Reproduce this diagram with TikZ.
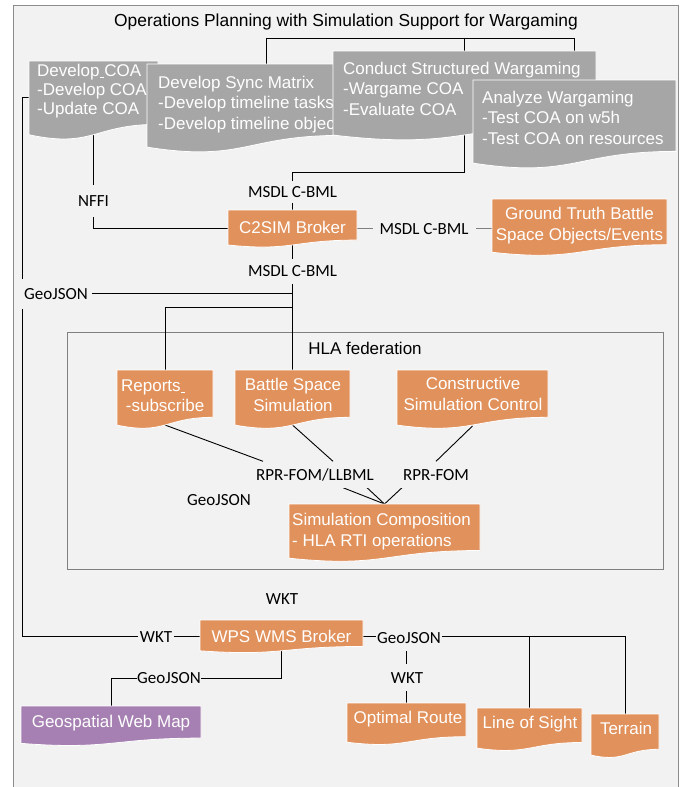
\documentclass[tikz,border=0pt]{standalone}
\usepackage{fontspec}
\setmainfont{Liberation Sans}
\newfontfamily\lblfont{Carlito}
\usetikzlibrary{calc}

\definecolor{pagebg}{HTML}{F2F2F2}
\definecolor{docgray}{HTML}{A6A6A6}
\definecolor{docorange}{HTML}{E1915B}
\definecolor{docpurple}{HTML}{A680B2}
\definecolor{framegray}{HTML}{8C8C8C}
\definecolor{linkgray}{HTML}{808080}

\pgfdeclarelayer{backdrop}
\pgfdeclarelayer{links}
\pgfsetlayers{backdrop,links,main}

\tikzset{
  docframe/.style={shape=rectangle, inner sep=0pt, outer sep=0pt},
  doctext/.style={text=white, inner sep=0pt, font=\fontsize{17}{20.5}\selectfont},
  conn/.style={draw=black, line width=0.9pt},
  conngray/.style={draw=linkgray, line width=0.9pt},
  lbl/.style={font=\lblfont\fontsize{17}{20}\selectfont, fill=pagebg,
    text height=11pt, text depth=0pt, inner xsep=2pt, inner ysep=2pt},
  heading/.style={font=\fontsize{17}{20}\selectfont, anchor=base, inner sep=0pt},
}

% stacked lines of text, baseline on the first line
\newcommand\leftlines[1]{\begin{tabular}[t]{@{}l@{}}#1\end{tabular}}
\newcommand\centerlines[1]{\begin{tabular}[t]{@{}c@{}}#1\end{tabular}}

% flowchart "document" box: name, x, y (top), width, height, fill,
% text options, text position from the top-left corner, text
\newcommand\docbox[9]{%
  \node[docframe, minimum width=#4pt, minimum height=#5pt, anchor=north west] (#1) at (#2,#3) {};
  \fill[#6, draw=white, line width=0.8pt] (#1.north west) -- (#1.north east)
    -- ([yshift={-0.802*#5pt}]#1.north east)
    .. controls ([yshift={-0.802*#5pt}]#1.north) and ([yshift={-1.107*#5pt}]#1.north)
    .. ([yshift={-0.934*#5pt}]#1.north west) -- cycle;
  \node[doctext, #7] at ($(#1.north west)+(#8)$) {#9};
}

\begin{document}
\begin{tikzpicture}[x=1pt, y=-1pt]
\useasboundingbox (0,0) rectangle (686,787);

\begin{pgfonlayer}{backdrop}
  \fill[white] (0,0) rectangle (686,787);
  \fill[pagebg] (13,5) rectangle (678,792);
  \draw[framegray, line width=1pt] (13,792) -- (13,5) -- (678,5) -- (678,792);
  \node[docframe, draw=linkgray, line width=0.9pt, minimum width=596pt,
        minimum height=237pt, anchor=north west] (hla) at (67,332) {};
\end{pgfonlayer}

\node[heading, font=\fontsize{17.4}{20}\selectfont] (title) at (346,27) {Operations Planning with Simulation Support for Wargaming};
\node[heading] (hlatitle) at (365,354) {HLA federation};

% planning steps
\docbox{devcoa}{29}{61}{129}{79}{docgray}{anchor=base west, font=\fontsize{17}{19}\selectfont}{8,15}
  {\leftlines{Develop\underline{\ }COA\\-Develop COA\\-Update COA}}
\docbox{sync}{147}{64}{195}{89}{docgray}{anchor=base west}{11,24}
  {\leftlines{Develop Sync Matrix\\-Develop timeline tasks\\-Develop timeline objectives}}
\docbox{conduct}{333}{51}{263}{90}{docgray}{anchor=base west}{10,23}
  {\leftlines{Conduct Structured Wargaming\\-Wargame COA\\-Evaluate COA}}
\docbox{analyze}{473}{80}{203}{89}{docgray}{anchor=base west}{9,23}
  {\leftlines{Analyze Wargaming\\-Test COA on w5h\\-Test COA on resources}}

% brokers and simulation services
\docbox{c2sim}{228}{210}{129}{37.5}{docorange}{anchor=base}{64.5,23}{C2SIM Broker}
\docbox{gt}{492}{199}{175}{57}{docorange}{anchor=base, font=\fontsize{17}{21}\selectfont}{87.5,20}
  {\centerlines{Ground Truth Battle\\Space Objects/Events}}
\docbox{reports}{117}{370}{96}{59}{docorange}{anchor=base west}{4,21}
  {\leftlines{Reports\underline{\ }\\\hspace*{4.7pt}-subscribe}}
\docbox{battle}{235}{370}{115}{59}{docorange}{anchor=base, font=\fontsize{17}{21}\selectfont}{58,20}
  {\centerlines{Battle Space\\Simulation}}
\docbox{cons}{397}{370}{151}{59}{docorange}{anchor=base, font=\fontsize{17}{21}\selectfont}{76,19}
  {\centerlines{Constructive\\Simulation Control}}
\docbox{simcomp}{289}{504}{191}{58}{docorange}{anchor=base west, font=\fontsize{17}{21}\selectfont}{3,21}
  {\leftlines{Simulation Composition\\- HLA RTI operations}}
\docbox{wps}{200}{620}{163}{33}{docorange}{anchor=base}{81.5,22}{WPS WMS Broker}
\docbox{geoweb}{21}{706}{180}{40}{docpurple}{anchor=base}{90,21}{Geospatial Web Map}
\docbox{optimal}{347}{703}{119}{42}{docorange}{anchor=base}{61,20}{Optimal Route}
\docbox{los}{477}{708}{105}{43}{docorange}{anchor=base}{53,20}{Line of Sight}
\docbox{terrain}{591}{714}{68}{44}{docorange}{anchor=base}{35,20}{Terrain}

% interface labels
\node[lbl, inner ysep=5.5pt] (msdlA) at (292.5,191.5) {MSDL C-BML};
\node[lbl, inner ysep=7pt] (msdlB) at (292.5,271) {MSDL C-BML};
\node[lbl, inner ysep=10.5pt] (nffi) at (93.5,200.5) {NFFI};
\node[lbl, inner xsep=4pt, inner ysep=9.5pt] (geoA) at (56,293.5) {GeoJSON};
\node[lbl, inner xsep=7pt] (msdlC) at (424,228.5) {MSDL C-BML};
\node[lbl, inner ysep=7.5pt] (rprl) at (315,474.5) {RPR-FOM/LLBML};
\node[lbl, inner ysep=7.5pt] (rpr) at (436,474.5) {RPR-FOM};
\node[lbl] (geoB) at (219,500) {GeoJSON};
\node[lbl] (wktA) at (282,598.5) {WKT};
\node[lbl, inner xsep=2pt] (wktB) at (156,637) {WKT};
\node[lbl, inner xsep=1pt, inner ysep=7.5pt] (geoC) at (409,637.5) {GeoJSON};
\node[lbl, inner ysep=8pt] (wktC) at (407,677.5) {WKT};
\node[lbl, inner xsep=0.5pt] (geoD) at (169,678) {GeoJSON};

\coordinate (topbus) at (0,38);
\coordinate (cbus) at (0,172);
\coordinate (rbus) at (0,307);

\begin{pgfonlayer}{links}
  % planning steps to the C2SIM broker
  \draw[conn] ([xshift=119pt]sync.north west) |- (topbus -| analyze.north) -- (analyze.north);
  \draw[conn] (conduct.north |- topbus) -- (conduct.north);
  \draw[conn] (conduct.center) |- (c2sim.north |- cbus) -- (c2sim.north);
  \draw[conn] (devcoa.center) |- (c2sim.west);
  \draw[conn] ([yshift=3.5pt]devcoa.west) -- ++(-7,0) |- (wps.west);
  \draw[conngray] (c2sim.east) -- (c2sim.east -| gt.west);
  % C2SIM broker into the federation
  \draw[conn] (c2sim.center) -- (battle.center);
  \draw[conn] (geoA) -- (geoA -| c2sim.center);
  \draw[conn] (c2sim.center |- rbus) -| (reports.center);
  % federation internals
  \draw[conn] ([yshift=4pt]reports.south) -- ([xshift=-52pt]rprl.north);
  \draw[conn] ([yshift=4pt]battle.south) -- ([xshift=18pt]rprl.north);
  \draw[conn] ([yshift=3pt]cons.south) -- (rpr.north);
  \draw[conn] ([xshift=28pt]rprl.south) -- (simcomp.north);
  \draw[conn] ([xshift=52pt]rprl.south) -- (simcomp.north);
  \draw[conn] ([xshift=-34pt]rpr.south) -- (simcomp.north);
  % geospatial services
  \draw[conn] (wps.east) -- (wps.east -| terrain.north) -- (terrain.north);
  \draw[conn] (los.north |- wps.east) -- (los.north);
  \draw[conn] (optimal.north |- wps.east) -- (optimal.north);
  \draw[conn] (wps.center) |- (geoweb.north |- geoD) -- (geoweb.north);
\end{pgfonlayer}
\end{tikzpicture}
\end{document}
